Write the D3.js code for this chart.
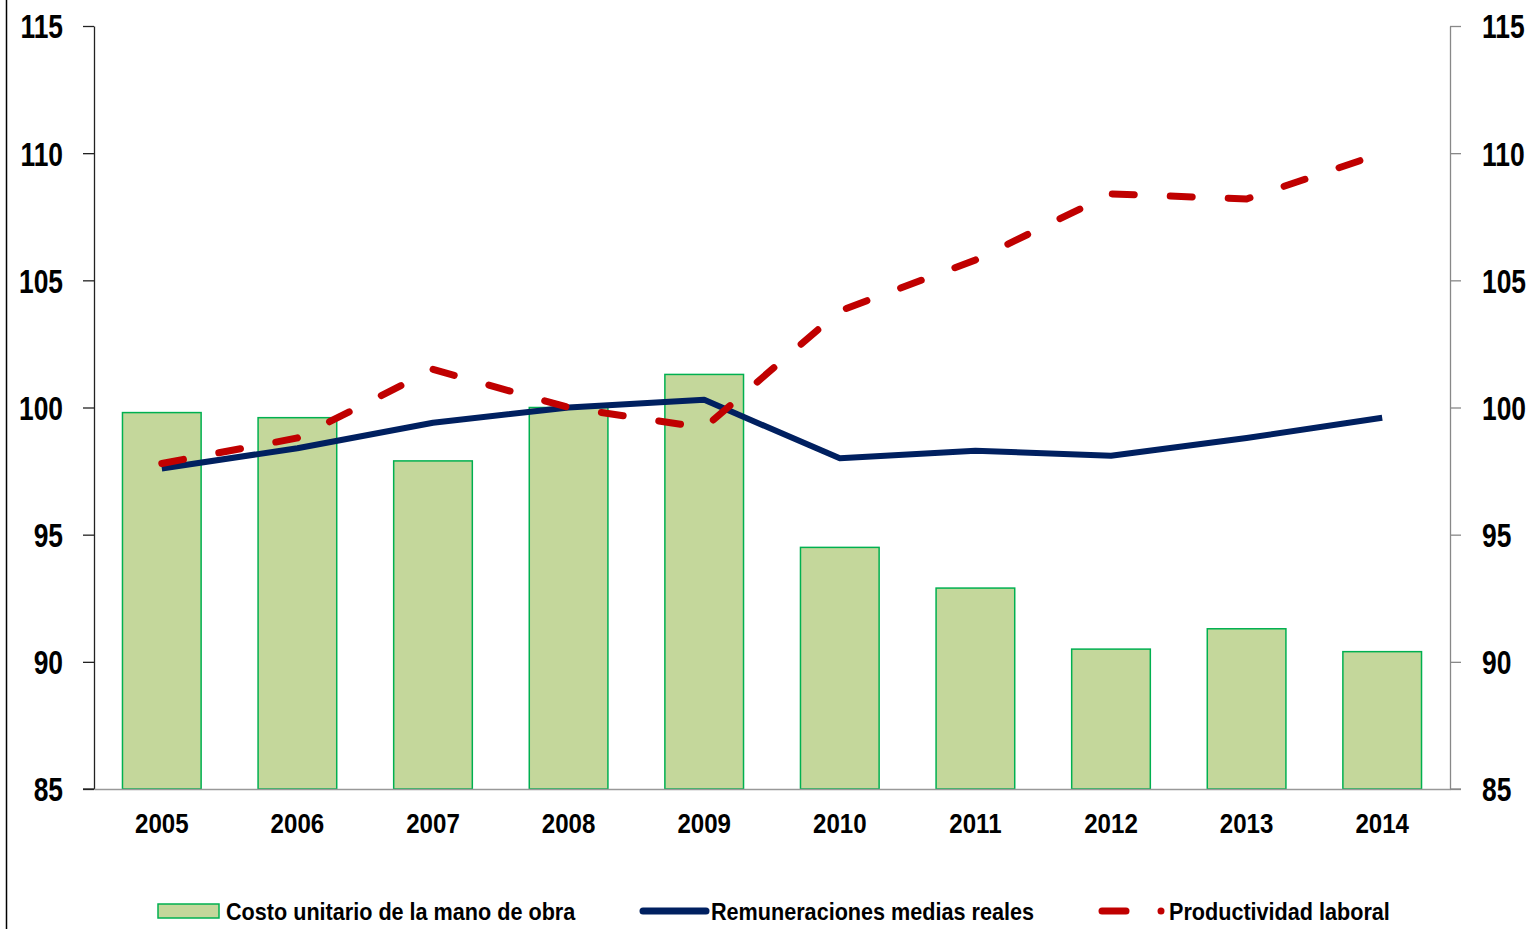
<!DOCTYPE html>
<html>
<head>
<meta charset="utf-8">
<script src="https://cdnjs.cloudflare.com/ajax/libs/d3/7.8.5/d3.min.js"></script>
<style>
	body { margin: 0; background: #fff; }
	text { font-family: "Liberation Sans Narrow", "Arial Narrow", "Liberation Sans", sans-serif; font-weight: bold; fill: #000; }
</style>
</head>
<body>
<svg id="chart" width="1540" height="929"></svg>
<script>
var years = ['2005', '2006', '2007', '2008', '2009', '2010', '2011', '2012', '2013', '2014'];
var costo = [99.8, 99.6, 97.9, 100.0, 101.3, 94.5, 92.9, 90.5, 91.3, 90.4];
var remuneraciones = [97.6, 98.4, 99.4, 100.0, 100.3, 98.0, 98.3, 98.1, 98.8, 99.6];
var productividad = [97.8, 98.8, 101.5, 100.0, 99.2, 103.8, 105.8, 108.4, 108.2, 110.0];
var yTicks = [85, 90, 95, 100, 105, 110, 115];

var svg = d3.select('#chart');
var plotLeft = 94, plotRight = 1450, plotTop = 26, plotBottom = 789;

var x = d3.scaleBand()
	.domain(years)
	.range([plotLeft, plotRight])
	.paddingInner(0.42)
	.paddingOuter(0.21);

var y = d3.scaleLinear()
	.domain([85, 115])
	.range([plotBottom, plotTop]);

// squeeze text to mimic a narrow font
function narrow(sel, k) {
	sel.each(function() {
		var w = this.getComputedTextLength();
		d3.select(this)
			.attr('textLength', w * k)
			.attr('lengthAdjust', 'spacingAndGlyphs');
	});
}

// left page border
svg.append('line')
	.attr('x1', 6.5).attr('x2', 6.5)
	.attr('y1', 0).attr('y2', 929)
	.attr('stroke', '#000').attr('stroke-width', 1.5);

// bars
svg.selectAll('rect.bar')
	.data(costo)
	.enter().append('rect')
		.attr('class', 'bar')
		.attr('x', function(d, i) { return x(years[i]); })
		.attr('width', x.bandwidth())
		.attr('y', function(d) { return y(d); })
		.attr('height', function(d) { return plotBottom - y(d); })
		.attr('fill', '#c4d79b')
		.attr('stroke', '#00b050')
		.attr('stroke-width', 1.5);

// axes
var yLeft = svg.append('g')
	.attr('transform', 'translate(' + plotLeft + ',0)')
	.call(d3.axisLeft(y).tickValues(yTicks).tickSize(11).tickPadding(20).tickSizeOuter(0));
yLeft.select('.domain').attr('stroke', '#222').attr('stroke-width', 1.3);
yLeft.selectAll('line').attr('stroke', '#222').attr('stroke-width', 1.3);
yLeft.selectAll('text').style('font-size', '33px').attr('dy', '0.36em').call(narrow, 0.8);

var yRight = svg.append('g')
	.attr('transform', 'translate(' + plotRight + ',0)')
	.call(d3.axisRight(y).tickValues(yTicks).tickSize(11).tickPadding(21).tickSizeOuter(0));
yRight.select('.domain').attr('stroke', '#888').attr('stroke-width', 1.3);
yRight.selectAll('line').attr('stroke', '#888').attr('stroke-width', 1.3);
yRight.selectAll('text').style('font-size', '33px').attr('dy', '0.36em').call(narrow, 0.8);

var xAxis = svg.append('g')
	.attr('transform', 'translate(0,' + plotBottom + ')')
	.call(d3.axisBottom(x).tickSize(0).tickPadding(24));
xAxis.select('.domain').attr('stroke', '#999').attr('stroke-width', 1.3);
xAxis.selectAll('text').style('font-size', '28px').call(narrow, 0.86);

svg.append('line')
	.attr('x1', plotLeft - 11).attr('x2', plotLeft)
	.attr('y1', plotBottom).attr('y2', plotBottom)
	.attr('stroke', '#222').attr('stroke-width', 1.3);
svg.append('line')
	.attr('x1', plotRight).attr('x2', plotRight + 11)
	.attr('y1', plotBottom).attr('y2', plotBottom)
	.attr('stroke', '#888').attr('stroke-width', 1.3);

// lines
var cx = function(i) { return x(years[i]) + x.bandwidth() / 2; };
var line = d3.line()
	.x(function(d, i) { return cx(i); })
	.y(function(d) { return y(d); });

svg.append('path')
	.datum(remuneraciones)
	.attr('d', line)
	.attr('fill', 'none')
	.attr('stroke', '#002060')
	.attr('stroke-width', 6)
	.attr('stroke-linejoin', 'round');

svg.append('path')
	.datum(productividad)
	.attr('d', line)
	.attr('fill', 'none')
	.attr('stroke', '#c00000')
	.attr('stroke-width', 7)
	.attr('stroke-linecap', 'round')
	.attr('stroke-dasharray', '22 36');

// legend
var lg = svg.append('g');
lg.append('rect')
	.attr('x', 158).attr('y', 904).attr('width', 61).attr('height', 14)
	.attr('fill', '#c4d79b').attr('stroke', '#00b050').attr('stroke-width', 1.5);
lg.append('text').attr('x', 226).attr('y', 920).style('font-size', '24px')
	.text('Costo unitario de la mano de obra');

lg.append('line')
	.attr('x1', 643).attr('x2', 706).attr('y1', 911).attr('y2', 911)
	.attr('stroke', '#002060').attr('stroke-width', 7).attr('stroke-linecap', 'round');
lg.append('text').attr('x', 711).attr('y', 920).style('font-size', '24px')
	.text('Remuneraciones medias reales');

lg.append('line')
	.attr('x1', 1102).attr('x2', 1126).attr('y1', 911).attr('y2', 911)
	.attr('stroke', '#c00000').attr('stroke-width', 7).attr('stroke-linecap', 'round');
lg.append('circle')
	.attr('cx', 1161).attr('cy', 911).attr('r', 3.5)
	.attr('fill', '#c00000');
lg.append('text').attr('x', 1169).attr('y', 920).style('font-size', '24px')
	.text('Productividad laboral');
lg.selectAll('text').call(narrow, 0.9);
</script>
</body>
</html>
